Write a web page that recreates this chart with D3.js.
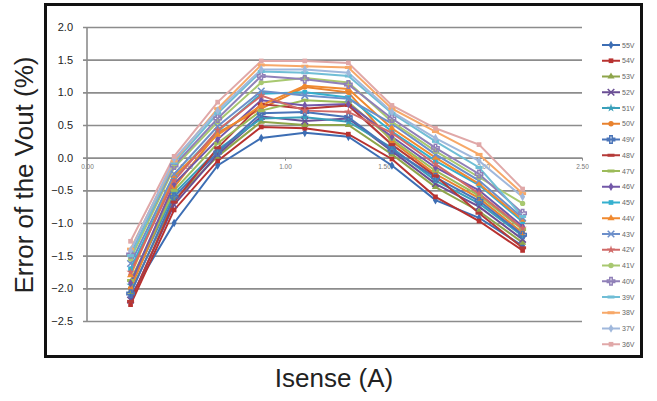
<!DOCTYPE html>
<html>
<head>
<meta charset="utf-8">
<script src="https://cdn.jsdelivr.net/npm/d3@7"></script>
<style>
  body { margin: 0; background: #fff; }
  svg { display: block; font-family: "Liberation Sans", Arial, sans-serif; }
</style>
</head>
<body>
<div class="container"></div>
<script>
const WIDTH = 657;
const HEIGHT = 401;

// current (A) at each measuring point
var currents = [0.22, 0.44, 0.66, 0.88, 1.10, 1.32, 1.54, 1.76, 1.98, 2.20];

var seriesNames = ["55V","54V","53V","52V","51V","50V","49V","48V","47V","46V",
                   "45V","44V","43V","42V","41V","40V","39V","38V","37V","36V"];

var v55 = [-2.12, -1.00, -0.12, 0.30, 0.38, 0.32, -0.12, -0.65, -0.92, -1.35];
var v54 = [-2.25, -0.80, -0.05, 0.47, 0.45, 0.36, -0.02, -0.60, -0.97, -1.42];
var v53 = [-2.05, -0.65, 0.02, 0.55, 0.50, 0.50, 0.05, -0.45, -0.82, -1.30];
var v52 = [-2.18, -0.72, 0.05, 0.63, 0.56, 0.60, 0.10, -0.40, -0.75, -1.25];
var v51 = [-1.95, -0.55, 0.12, 0.60, 0.62, 0.55, 0.15, -0.35, -0.70, -1.20];
var v50 = [-2.00, -0.45, 0.38, 0.75, 1.08, 1.00, 0.25, -0.25, -0.62, -1.15];
var v49 = [-2.08, -0.60, 0.08, 0.68, 0.70, 0.62, 0.12, -0.30, -0.66, -1.18];
var v48 = [-2.20, -0.68, 0.15, 0.82, 0.75, 0.80, 0.20, -0.28, -0.85, -1.38];
var v47 = [-1.88, -0.50, 0.22, 0.72, 0.88, 0.85, 0.28, -0.20, -0.58, -1.10];
var v46 = [-1.92, -0.40, 0.28, 0.88, 0.80, 0.82, 0.32, -0.15, -0.50, -1.05];
var v45 = [-1.70, -0.30, 0.40, 0.98, 1.00, 0.92, 0.40, -0.05, -0.42, -0.98];
var v44 = [-1.80, -0.28, 0.35, 0.80, 1.10, 1.05, 0.45, 0.00, -0.40, -0.95];
var v43 = [-1.62, -0.25, 0.48, 1.02, 0.95, 0.90, 0.52, 0.05, -0.35, -0.92];
var v42 = [-1.75, -0.35, 0.42, 0.95, 0.72, 0.70, 0.38, -0.10, -0.55, -1.08];
var v41 = [-1.55, -0.15, 0.55, 1.15, 1.22, 1.15, 0.55, 0.10, -0.30, -0.70];
var v40 = [-1.48, -0.12, 0.60, 1.25, 1.20, 1.12, 0.60, 0.15, -0.25, -0.85];
var v39 = [-1.50, -0.08, 0.68, 1.32, 1.30, 1.25, 0.68, 0.25, -0.15, -0.90];
var v38 = [-1.40, -0.05, 0.75, 1.42, 1.40, 1.38, 0.75, 0.40, 0.05, -0.55];
var v37 = [-1.42, -0.02, 0.72, 1.35, 1.35, 1.30, 0.70, 0.30, -0.05, -0.60];
var v36 = [-1.28, 0.02, 0.85, 1.48, 1.48, 1.45, 0.80, 0.45, 0.20, -0.48];

var seriesValues = [v55,v54,v53,v52,v51,v50,v49,v48,v47,v46,
                    v45,v44,v43,v42,v41,v40,v39,v38,v37,v36];

var seriesColors = ["#3d6eb4","#b83230","#8ea54a","#6a4e94","#3aa0ba","#e8822e","#4a74b8","#b53a38","#9cbb5a","#7358a8",
                    "#35b0cf","#f08a30","#6c8fca","#d06a68","#a8c870","#9080b8","#70bed6","#f7a868","#a0b8dc","#e0a8a8"];

var markerTypes = ["diamond","square","triangle","x","star","circle","plus","dash","dash","diamond",
                   "square","triangle","x","star","circle","plus","dash","dash","diamond","square"];

var yTicks = [2.0, 1.5, 1.0, 0.5, 0.0, -0.5, -1.0, -1.5, -2.0, -2.5];
var xTicks = [0, 0.5, 1.0, 1.5, 2.0, 2.5];

var symbolFor = function(type){
    var s = {
        diamond: d3.symbolDiamond, square: d3.symbolSquare, triangle: d3.symbolTriangle,
        x: d3.symbolX, star: d3.symbolStar, circle: d3.symbolCircle, plus: d3.symbolCross
    }[type];
    return s;
};

var drawMarker = function(g, type, color){
    if (type === "dash") {
        g.append("rect").attr("x",-3.5).attr("y",-1.5).attr("width",7).attr("height",3).attr("fill",color);
        return;
    }
    var sym = symbolFor(type);
    var size = (type === "x" || type === "plus") ? 30 : 22;
    var p = g.append("path").attr("d", d3.symbol().type(sym).size(size)());
    if (type === "x" || type === "plus") p.attr("fill","none").attr("stroke",color).attr("stroke-width",1.5);
    else p.attr("fill",color);
};

var generateChart = function(){
    var x = d3.scaleLinear().domain([0,2.5]).range([87,582]);
    var y = d3.scaleLinear().domain([-2.5,2.0]).range([321,27]);

    var svg = d3.select(".container").append("svg")
        .attr("width",WIDTH).attr("height",HEIGHT);

    svg.append("rect").attr("width",WIDTH).attr("height",HEIGHT).attr("fill","#fff");

    // outer frame
    svg.append("rect")
        .attr("x",45.5).attr("y",4.5).attr("width",596).attr("height",352)
        .attr("fill","none").attr("stroke","#111").attr("stroke-width",3);

    // horizontal grid lines + y labels
    var yAxis = d3.axisLeft(y).tickValues(yTicks).tickFormat(d3.format(".1f"))
        .tickSize(-(582-83)).tickPadding(9);
    var gy = svg.append("g").attr("transform","translate(83,0)").call(yAxis);
    gy.select(".domain").remove();
    gy.selectAll(".tick line").attr("stroke","#8c8c8c").attr("stroke-width",1.6);
    gy.selectAll(".tick text").attr("fill","#222").attr("font-size",11).attr("x",-10);

    // vertical axis line
    svg.append("line").attr("x1",x(0)).attr("x2",x(0)).attr("y1",y(2.0)).attr("y2",y(-2.5))
        .attr("stroke","#8c8c8c").attr("stroke-width",1.6);

    // x axis on the zero line
    var xAxis = d3.axisBottom(x).tickValues(xTicks).tickFormat(d3.format(".2f"))
        .tickSize(3).tickPadding(4);
    var gx = svg.append("g").attr("transform","translate(0,"+y(0)+")").call(xAxis);
    gx.select(".domain").remove();
    gx.selectAll(".tick line").attr("stroke","#8c8c8c");
    gx.selectAll(".tick text").attr("fill","#777").attr("font-size",6.5);

    // series
    var line = d3.line().x(function(d,i){ return x(currents[i]); }).y(function(d){ return y(d); });

    seriesValues.forEach(function(vals, k){
        svg.append("path").datum(vals)
            .attr("d", line).attr("fill","none")
            .attr("stroke", seriesColors[k]).attr("stroke-width",2);
    });
    seriesValues.forEach(function(vals, k){
        vals.forEach(function(v, i){
            var g = svg.append("g").attr("transform","translate("+x(currents[i])+","+y(v)+")");
            drawMarker(g, markerTypes[k], seriesColors[k]);
        });
    });

    // legend
    var legend = svg.append("g").attr("transform","translate(602,45)");
    seriesNames.forEach(function(name, k){
        var row = legend.append("g").attr("transform","translate(0,"+(k*15.75)+")");
        row.append("line").attr("x1",0).attr("x2",18).attr("y1",0).attr("y2",0)
            .attr("stroke",seriesColors[k]).attr("stroke-width",2);
        var m = row.append("g").attr("transform","translate(9,0)");
        drawMarker(m, markerTypes[k], seriesColors[k]);
        row.append("text").attr("x",20).attr("y",2.5).attr("font-size",7).attr("fill","#666").text(name);
    });

    // axis titles
    svg.append("text").attr("x",334).attr("y",387).attr("text-anchor","middle")
        .attr("font-size",26).attr("fill","#222").text("Isense (A)");
    svg.append("text").attr("transform","translate(33,175) rotate(-90)").attr("text-anchor","middle")
        .attr("font-size",26).attr("fill","#222").text("Error of the Vout (%)");
};

generateChart();
</script>
</body>
</html>
